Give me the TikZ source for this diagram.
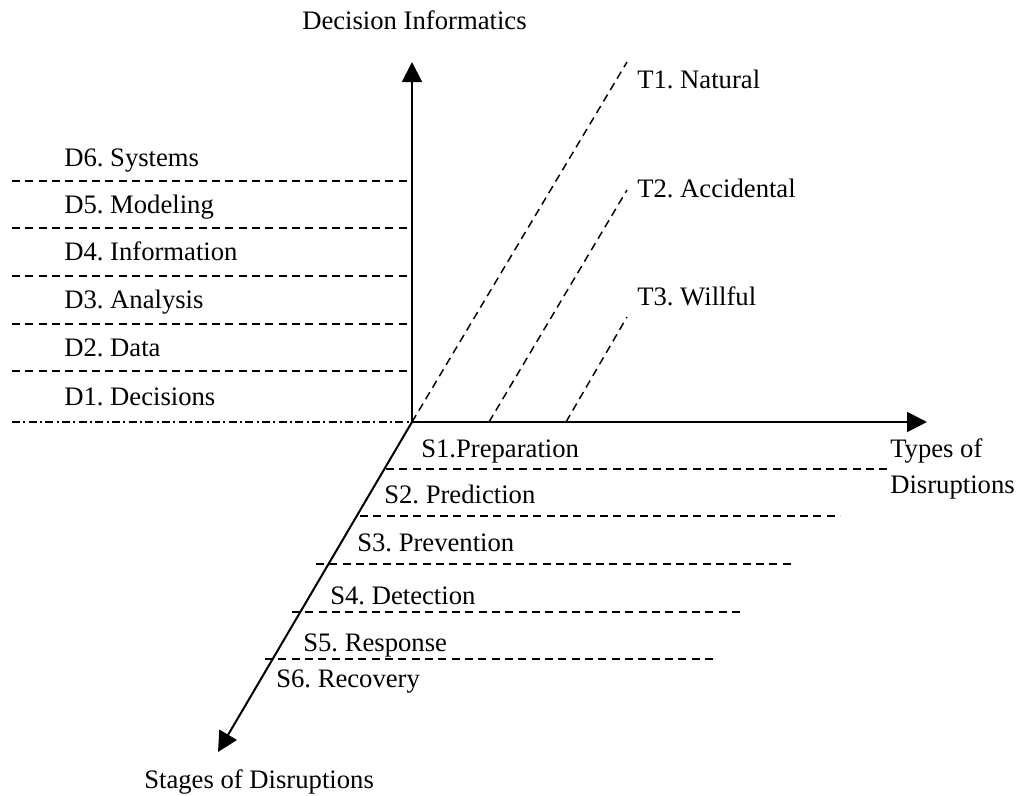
\documentclass[tikz,border=0pt]{standalone}
\usepackage{fontspec}
\setmainfont{Liberation Serif}
\usetikzlibrary{arrows.meta}
\frenchspacing

\begin{document}
\begin{tikzpicture}[x=0.75pt,y=-0.75pt,
    axis/.style={line width=1.5pt,-{Triangle[length=15pt,width=15pt]}},
    guide/.style={line width=1.1pt,dash pattern=on 6pt off 4pt},
    lbl/.style={anchor=base west,inner sep=0pt,font=\fontsize{20}{24}\selectfont}]
    \useasboundingbox (0,0) rectangle (1018,796);

    % axes
    \coordinate (O) at (412,422);
    \coordinate (top) at (412,62);
    \coordinate (right) at (927,422);
    \coordinate (low) at (218,752);
    \draw[axis] (O) -- (top);
    \draw[axis] (O) -- (right);
    \draw[axis] (O) -- (low);

    % axis titles
    \node[lbl] (dinf) at (302,30) {Decision Informatics};
    \node[lbl] (types) at (890,457) {Types of};
    \node[lbl] (disr) at (890,493) {Disruptions};
    \node[lbl] (stages) at (144,788) {Stages of Disruptions};

    % decision informatics levels
    \foreach \y in {181,228,276,324,371}
        \draw[guide] (12,\y) -- (412,\y);
    \draw[line width=1.1pt,dash pattern=on 6pt off 2.5pt on 1.5pt off 2.5pt] (12,422) -- (O);
    \foreach \i/\y/\t in {6/166/Systems,5/213/Modeling,4/260/Information,3/308/Analysis,2/356/Data,1/405/Decisions}
        \node[lbl] (d\i) at (64,\y) {D\i. \t};

    % types of disruptions
    \coordinate (t1a) at (627,62);
    \coordinate (t2o) at (489,422);
    \coordinate (t2a) at (627,190);
    \coordinate (t3o) at (566,422);
    \coordinate (t3a) at (627,317);
    \draw[guide] (O) -- (t1a);
    \draw[guide] (t2o) -- (t2a);
    \draw[guide] (t3o) -- (t3a);
    \node[lbl] (t1) at (637,88) {T1. Natural};
    \node[lbl] (t2) at (637,197) {T2. Accidental};
    \node[lbl] (t3) at (637,305) {T3. Willful};

    % stages of disruptions
    \foreach \y/\xa/\xb in {469/386/888,516/360/840,564/316/795,612/292/745,659/265/715}
        \draw[guide] (\xa,\y) -- (\xb,\y);
    \node[lbl] (s1) at (421,457) {S1.Preparation};
    \node[lbl] (s2) at (384,503) {S2. Prediction};
    \node[lbl] (s3) at (357,551) {S3. Prevention};
    \node[lbl] (s4) at (330,604) {S4. Detection};
    \node[lbl] (s5) at (303,651) {S5. Response};
    \node[lbl] (s6) at (276,687) {S6. Recovery};
\end{tikzpicture}
\end{document}
